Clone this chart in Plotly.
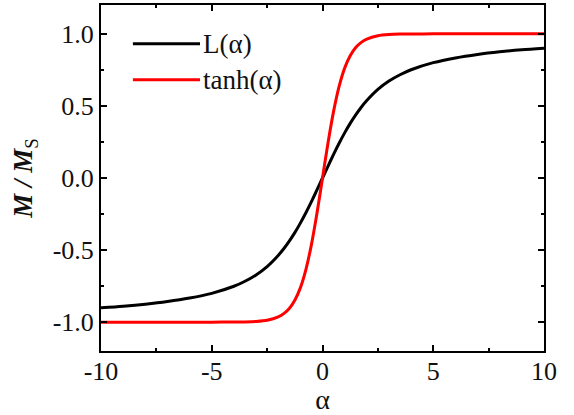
import plotly.graph_objects as go

alpha = [-10, -9, -8, -7, -6, -5, -4, -3.5, -3, -2.5, -2, -1.75, -1.5, -1.25, -1, -0.75, -0.5, -0.25,
         0, 0.25, 0.5, 0.75, 1, 1.25, 1.5, 1.75, 2, 2.5, 3, 3.5, 4, 5, 6, 7, 8, 9, 10]
langevin = [-0.900, -0.889, -0.875, -0.857, -0.833, -0.800, -0.751, -0.716, -0.672, -0.614, -0.537,
            -0.491, -0.438, -0.379, -0.313, -0.241, -0.164, -0.083,
            0.0, 0.083, 0.164, 0.241, 0.313, 0.379, 0.438, 0.491, 0.537, 0.614, 0.672, 0.716, 0.751,
            0.800, 0.833, 0.857, 0.875, 0.889, 0.900]
tanh_vals = [-1.0, -1.0, -1.0, -1.0, -1.0, -1.0, -0.999, -0.998, -0.995, -0.987, -0.964, -0.941,
             -0.905, -0.848, -0.762, -0.635, -0.462, -0.245,
             0.0, 0.245, 0.462, 0.635, 0.762, 0.848, 0.905, 0.941, 0.964, 0.987, 0.995, 0.998, 0.999,
             1.0, 1.0, 1.0, 1.0, 1.0, 1.0]
x_ticks = [-10, -5, 0, 5, 10]
y_ticks = [-1.0, -0.5, 0.0, 0.5, 1.0]
legend_names = ["L(α)", "tanh(α)"]
colors = ["#000000", "#ff0000"]

FONT = "Liberation Serif"

fig = go.Figure()
fig.add_trace(go.Scatter(x=alpha, y=langevin, mode="lines", name=legend_names[0],
                         line=dict(color=colors[0], width=3, shape="spline", smoothing=0.8)))
fig.add_trace(go.Scatter(x=alpha, y=tanh_vals, mode="lines", name=legend_names[1],
                         line=dict(color=colors[1], width=3, shape="spline", smoothing=0.8)))

axis_common = dict(showline=True, linecolor="black", linewidth=2, mirror="ticks",
                   ticks="inside", ticklen=6, tickwidth=2, tickcolor="black",
                   showgrid=False, zeroline=False,
                   tickfont=dict(family=FONT, size=26, color="#111111"))
fig.update_xaxes(range=[-10, 10], tickvals=x_ticks, ticktext=[str(v) for v in x_ticks],
                 minor=dict(ticks="inside", ticklen=3, tickwidth=2, tickcolor="black", dtick=2.5, showgrid=False),
                 ticklabelstandoff=-4,
                 title=dict(text="α", font=dict(family=FONT, size=28, color="#111111"), standoff=0),
                 **axis_common)
fig.update_yaxes(range=[-1.2, 1.2], tickvals=y_ticks, ticktext=[f"{v:.1f}" for v in y_ticks],
                 minor=dict(ticks="inside", ticklen=3, tickwidth=2, tickcolor="black", dtick=0.25, showgrid=False),
                 title=dict(text="<b><i>M / M</i></b><sub>S</sub>", font=dict(family=FONT, size=27, color="#111111"),
                            standoff=12),
                 **axis_common)

# manual legend
leg_y = [0.888, 0.784]
for name, col, yy in zip(legend_names, colors, leg_y):
    fig.add_shape(type="line", xref="paper", yref="paper", x0=0.072, x1=0.2235, y0=yy, y1=yy,
                  line=dict(color=col, width=3))
    fig.add_annotation(xref="paper", yref="paper", x=0.226, y=yy, text=name, showarrow=False,
                       xanchor="left", yanchor="middle",
                       font=dict(family=FONT, size=27, color="#111111"))

fig.update_layout(width=574, height=415, margin=dict(l=101, r=30, t=3, b=64),
                  paper_bgcolor="white", plot_bgcolor="white", showlegend=False)
fig.write_html("out.html")
